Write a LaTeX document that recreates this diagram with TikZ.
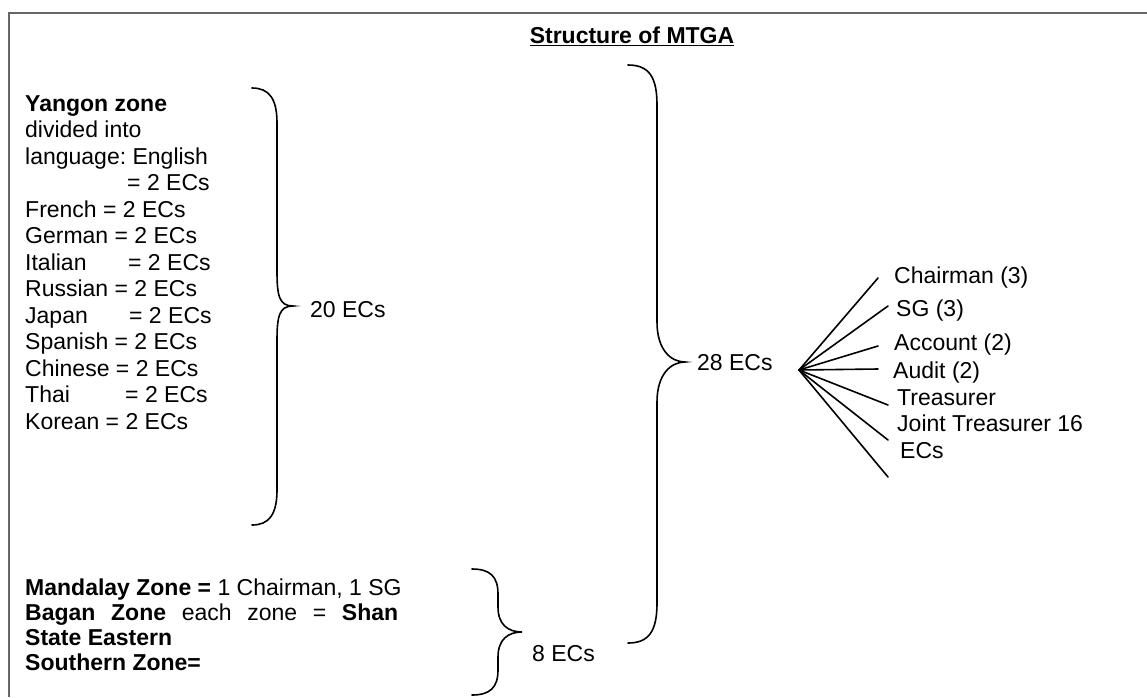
\documentclass[tikz,border=0pt]{standalone}
\usepackage{fontspec}
\setmainfont{Liberation Sans}
\frenchspacing
\newcommand{\mybrace}[7]{%
 \draw[bracestyle] (#1,#4) .. controls (#2-8,#4) and (#2,#4+#7*0.3) .. (#2,#4+#7) -- (#2,#5-#7) .. controls (#2,#5-#7*0.3) and (#3-14,#5) .. (#3,#5) .. controls (#3-14,#5) and (#2,#5+#7*0.3) .. (#2,#5+#7) -- (#2,#6-#7) .. controls (#2,#6-#7*0.3) and (#2-8,#6) .. (#1,#6);}
\begin{document}
\begin{tikzpicture}[x=1pt,y=-1pt,
  txt/.style={anchor=base west, inner sep=0pt, font=\fontsize{23}{26.5}\selectfont},
  bracestyle/.style={line width=1.6pt, line cap=round},
  fanline/.style={line width=1.6pt, line cap=round},
  frameline/.style={line width=2pt, draw=black!60}]
\useasboundingbox (0,0) rectangle (1147,697);
\fill[white] (0,0) rectangle (1147,697);
\draw[frameline] (9,697) -- (9,12.5) -- (1147,12.5);
% title
\node[inner sep=0pt, font=\fontsize{23}{26.5}\selectfont\bfseries] (title) at (632,36) {\underline{Structure of MTGA}};
% Yangon block
\node[txt] (y0) at (25,111) {\textbf{Yangon zone}};
\node[txt] (y1) at (25,137.5) {divided into};
\node[txt] (y2) at (25,164) {language: English};
\node[txt] (y3) at (127,190.5) {= 2 ECs};
\node[txt] (y4) at (25,217) {French = 2 ECs};
\node[txt] (y5) at (25,243.5) {German = 2 ECs};
\node[txt] (y6) at (25,270) {\makebox[103pt][l]{Italian}= 2 ECs};
\node[txt] (y7) at (25,296.5) {Russian = 2 ECs};
\node[txt] (y8) at (25,323) {\makebox[104pt][l]{Japan}= 2 ECs};
\node[txt] (y9) at (25,349.5) {Spanish = 2 ECs};
\node[txt] (y10) at (25,376) {Chinese = 2 ECs};
\node[txt] (y11) at (25,402.5) {\makebox[100pt][l]{Thai}= 2 ECs};
\node[txt] (y12) at (25,429) {Korean = 2 ECs};
% braces
\mybrace{252}{277}{293}{88}{306}{525}{35}
\node[txt] (ec20) at (310,317) {20 ECs};
\mybrace{628}{657}{685}{65}{362}{643}{40}
\node[txt] (ec28) at (697,370) {28 ECs};
\mybrace{472}{498}{522}{569}{632}{695}{25}
\node[txt] (ec8) at (532,661) {8 ECs};
% bottom block
\node[txt] (m1) at (25,595) {\textbf{Mandalay Zone =} 1 Chairman, 1 SG};
\node[txt] (m2) at (25,620) {\makebox[373pt][s]{\textbf{Bagan} \textbf{Zone} each zone = \textbf{Shan}}};
\node[txt] (m3) at (25,645) {\textbf{State Eastern}};
\node[txt] (m4) at (25,670) {\textbf{Southern Zone=}};
% fan
\coordinate (hub) at (799,370);
\coordinate (e1) at (878,278);
\coordinate (e2) at (888,306);
\coordinate (e3) at (878,346);
\coordinate (e4) at (878,369);
\coordinate (e5) at (888,405);
\coordinate (e6) at (888,440);
\coordinate (e7) at (888,477);
\foreach \i in {1,...,7} \draw[fanline] (hub) -- (e\i);
\node[txt] (f1) at (894,283) {Chairman (3)};
\node[txt] (f2) at (896,316) {SG (3)};
\node[txt] (f3) at (894,350) {Account (2)};
\node[txt] (f4) at (893,378) {Audit (2)};
\node[txt] (f5) at (897,405) {Treasurer};
\node[txt] (f6) at (897,431) {Joint Treasurer 16};
\node[txt] (f7) at (900,458) {ECs};
\end{tikzpicture}
\end{document}
